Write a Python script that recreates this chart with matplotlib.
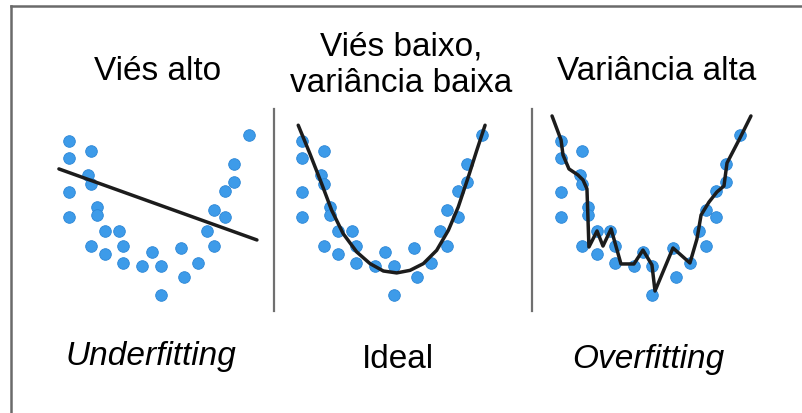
import matplotlib
matplotlib.use("Agg")
import matplotlib.pyplot as plt
from matplotlib.lines import Line2D

plt.rcParams["font.family"] = ["Liberation Sans", "DejaVu Sans"]

# shared scatter sample (x, y)
pts_x = [0.52, 0.52, 1.71, 1.57, 1.71, 0.52, 0.52, 2.04, 2.04, 2.50,
         3.26, 1.71, 2.50, 3.52, 3.52, 5.09, 4.57, 5.59, 5.59, 6.74,
         6.91, 7.67, 8.17, 8.57, 8.57, 9.15, 9.15, 9.67, 9.67, 10.48]
pts_y = [9.86, 8.81, 9.25, 7.75, 7.19, 6.67, 5.14, 5.77, 5.25, 4.25,
         4.25, 3.29, 2.79, 3.29, 2.25, 2.96, 2.08, 2.08, 0.27, 3.17,
         1.36, 2.25, 4.23, 3.29, 5.58, 5.14, 6.75, 7.29, 8.42, 10.27]

# high bias: straight line
under_x = [-0.06, 10.94]
under_y = [8.13, 3.69]

# good fit: smooth U curve
ideal_x = [0.29, 0.94, 1.59, 2.15, 2.79, 3.54, 4.28, 5.02, 5.76, 6.50,
           7.24, 7.98, 8.63, 9.18, 9.74, 10.21, 10.67]
ideal_y = [10.86, 9.08, 7.21, 5.54, 4.08, 2.94, 2.21, 1.75, 1.63, 1.79,
           2.21, 3.04, 4.29, 5.75, 7.63, 9.29, 10.86]

# high variance: jagged line through the points
over_x = [0.03, 0.53, 0.64, 0.97, 1.47, 1.75, 1.97, 2.08, 2.53, 2.86,
          3.31, 3.86, 4.58, 5.08, 5.58, 5.75, 6.75, 7.69, 8.08, 8.31,
          8.75, 9.19, 9.58, 9.75, 10.47, 11.08]
over_y = [11.44, 9.94, 9.00, 8.13, 7.75, 7.44, 6.88, 3.25, 4.25, 3.31,
          4.38, 2.19, 2.19, 3.06, 2.13, 0.50, 3.19, 2.25, 3.75, 5.25,
          6.06, 6.69, 7.06, 8.50, 10.06, 11.44]

titles = ["Viés alto", "Viés baixo,\nvariância baixa", "Variância alta"]
labels = ["Underfitting", "Ideal", "Overfitting"]
label_styles = ["italic", "normal", "italic"]

W, H = 802, 414
fig = plt.figure(figsize=(W / 100, H / 100), dpi=100)
fig.patch.set_facecolor("white")

def fx(px):
    return px / W

def fy(py):
    return 1 - py / H

panel_left = [51, 284, 542.5]
fits = [(under_x, under_y), (ideal_x, ideal_y), (over_x, over_y)]

for left, (lx, ly) in zip(panel_left, fits):
    ax = fig.add_axes([fx(left), fy(316), 216 / W, 216 / H])
    ax.scatter(pts_x, pts_y, s=70, color="#3d9be9", edgecolor="#2b86d6",
               linewidth=0.6, zorder=2)
    ax.plot(lx, ly, color="#1c1c1c", lw=2.5, solid_joinstyle="round",
            solid_capstyle="round", zorder=3)
    ax.set_xlim(-0.5, 11.5)
    ax.set_ylim(-1, 12.5)
    ax.axis("off")

# outer frame (left and top only)
fig.add_artist(Line2D([fx(10.5), fx(10.5)], [fy(6.5), 0], color="#6a6a6a", lw=1.8))
fig.add_artist(Line2D([fx(10.5), 1], [fy(6.5), fy(6.5)], color="#6a6a6a", lw=1.8))

# panel separators
for sx in [274, 532]:
    fig.add_artist(Line2D([fx(sx), fx(sx)], [fy(110), fy(312)], color="#707070", lw=1.6))

title_pos = [(158, 72), (401, 65), (657, 72)]
for (tx, ty), t in zip(title_pos, titles):
    fig.text(fx(tx), fy(ty), t, ha="center", va="center", fontsize=24,
             linespacing=1.22, color="black")

label_pos = [(151, 356), (398, 360), (648, 360)]
for (tx, ty), t, st in zip(label_pos, labels, label_styles):
    fig.text(fx(tx), fy(ty), t, ha="center", va="center", fontsize=24,
             style=st, color="black")

fig.savefig("out.png", dpi=100, facecolor="white")
